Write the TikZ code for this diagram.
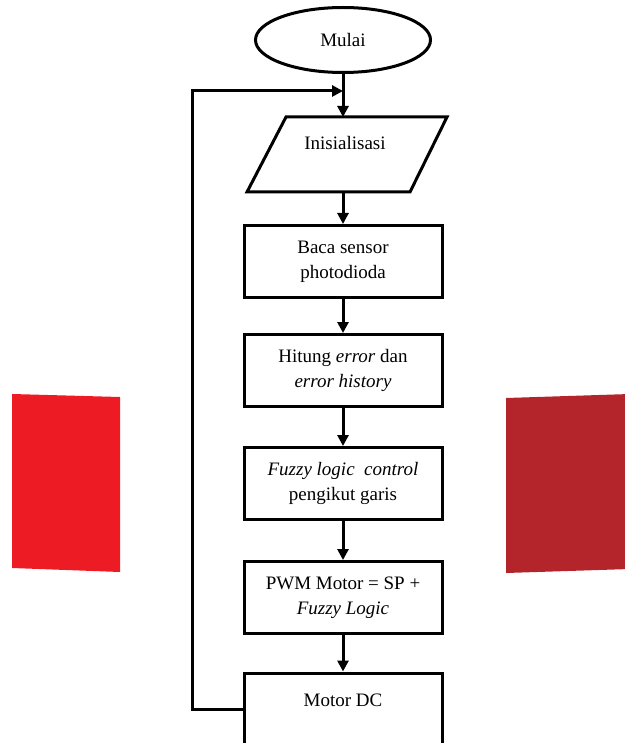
\documentclass[tikz,border=0pt]{standalone}
\usepackage{fontspec}
\setmainfont{Liberation Serif}
\usetikzlibrary{shapes.geometric,arrows.meta}

\definecolor{merah}{RGB}{237,28,36}
\definecolor{merahtua}{RGB}{179,37,42}

\begin{document}
\begin{tikzpicture}[x=0.5pt,y=-0.5pt,
    font=\fontsize{9.5}{12.5}\selectfont,
    every node/.style={inner sep=0pt},
    garis/.style={line width=1.5pt},
    panah/.style={garis, -{Triangle[length=5.5pt,width=5.5pt]}},
    terminal/.style={draw, garis, ellipse, minimum width=87.5pt, minimum height=32.5pt},
    proses/.style={draw, garis, rectangle, minimum width=99pt, minimum height=36pt, align=center}]
        \clip (0,0) rectangle (625,743);
        \fill[white] (0,0) rectangle (625,743);

        % hiasan merah kiri dan kanan
        \fill[merah] (12,394) -- (120,397) -- (120,572) -- (12,568) -- cycle;
        \fill[merahtua] (506,398) -- (630,394) -- (630,569) -- (506,573) -- cycle;

        \node[terminal] (mulai) at (343,40) {Mulai};

        % jajaran genjang inisialisasi
        \draw[garis, line join=miter] (247,192) -- (286,117) -- (447,117) -- (410,192) -- cycle;
        \coordinate (initatas) at (343,117);
        \coordinate (initbawah) at (343,192);
        \node (init) at (345,143) {Inisialisasi};

        \node[proses] (baca) at (343,261.5) {Baca sensor\\photodioda};
        \node[proses] (hitung) at (343,370.5) {Hitung \textit{error} dan\\\textit{error history}};
        \node[proses] (fuzzy) at (343,483.5) {\textit{Fuzzy logic\ \ control}\\pengikut garis};
        \node[proses] (pwm) at (343,597.5) {PWM Motor = SP +\\\textit{Fuzzy Logic}};
        \node[proses] (motor) at (343,709) {};
        \node (motorlbl) at (343,700) {Motor DC};

        \coordinate (balik) at (192,91);
        \coordinate (temu) at (343,91);

        \draw[panah] (mulai.south) -- (initatas);
        \draw[panah] (initbawah) -- (baca.north);
        \draw[panah] (baca.south) -- (hitung.north);
        \draw[panah] (hitung.south) -- (fuzzy.north);
        \draw[panah] (fuzzy.south) -- (pwm.north);
        \draw[panah] (pwm.south) -- (motor.north);
        \draw[panah] (motor.west) -| (balik) -- (temu);
    \end{tikzpicture}
\end{document}
